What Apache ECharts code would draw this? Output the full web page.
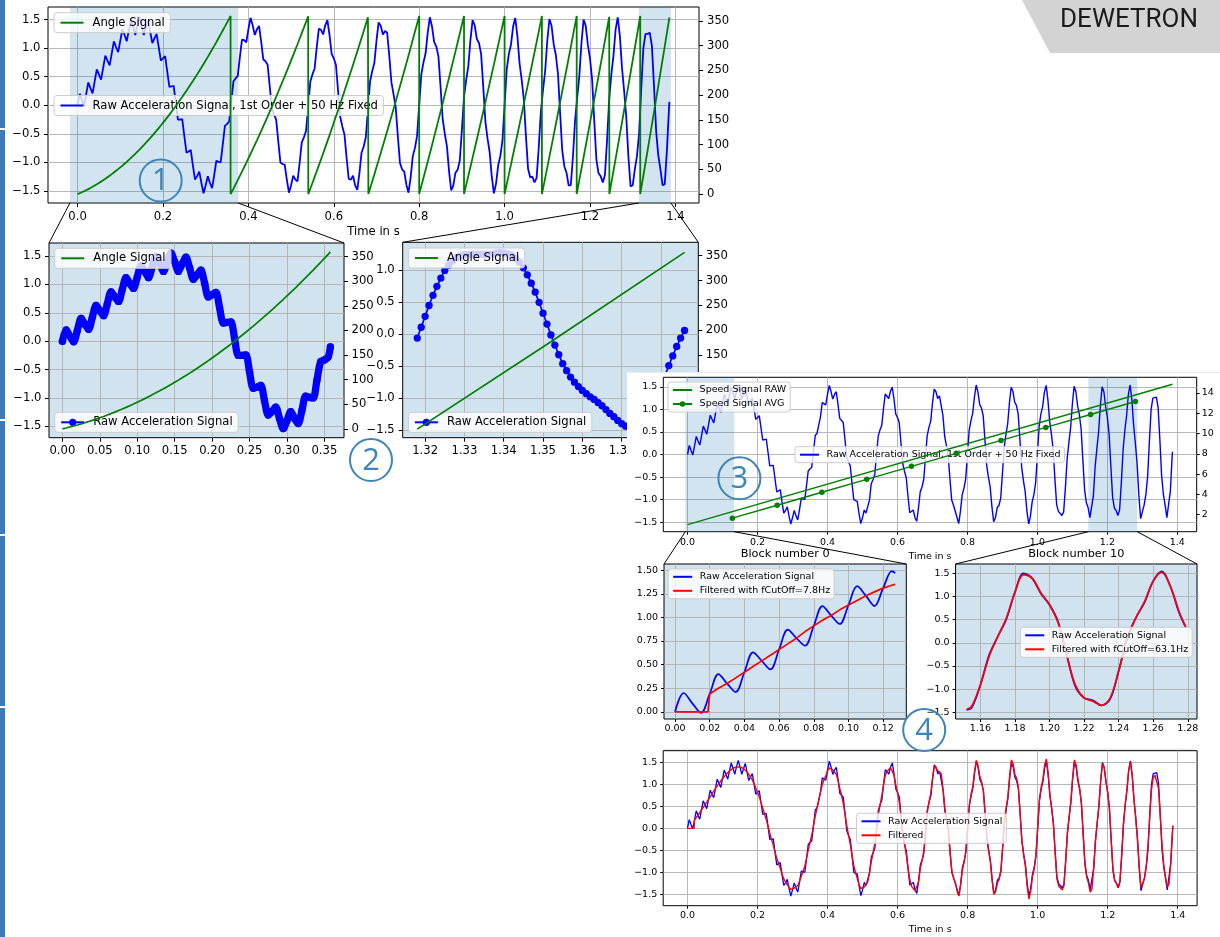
<!DOCTYPE html>
<html>
<head>
<meta charset="utf-8">
<title>Order analysis – raw and filtered acceleration</title>
<script src="https://cdn.jsdelivr.net/npm/echarts@6.0.0/dist/echarts.min.js"></script>
<style>
html, body { margin:0; padding:0; background:#fff; width:1220px; height:937px; overflow:hidden; }
#c1 { position:absolute; left:0; top:0; width:1220px; height:937px; }
#c2 { position:absolute; left:627px; top:372px; width:593px; height:565px; background:#fff; }
</style>
</head>
<body>
<div id="c1"></div>
<div id="c2"></div>
<script>
// ================= DATA =================
const SAMPLE_STEP = 0.005; // seconds between consecutive values below

// Raw acceleration signal (1st order + 50 Hz), one value every 5 ms from t = 0
const rawAccel = [
 0.00, 0.20, 0.09,-0.01, 0.19, 0.40, 0.30, 0.21, 0.42, 0.63,
 0.54, 0.45, 0.66, 0.87, 0.78, 0.70, 0.91, 1.12, 1.02, 0.93,
 1.13, 1.33, 1.23, 1.12, 1.31, 1.49, 1.37, 1.23, 1.40, 1.55,
 1.40, 1.23, 1.36, 1.48, 1.29, 1.09, 1.17, 1.25, 1.02, 0.78,
 0.82, 0.86, 0.59, 0.32, 0.33, 0.34, 0.05,-0.25,-0.25,-0.24,
-0.54,-0.83,-0.81,-0.78,-1.05,-1.30,-1.24,-1.16,-1.36,-1.54,
-1.40,-1.24,-1.36,-1.45,-1.22,-0.97,-0.99,-1.00,-0.69,-0.36,
-0.33,-0.28, 0.07, 0.42, 0.47, 0.51, 0.84, 1.15, 1.14, 1.10,
 1.33, 1.53, 1.40, 1.23, 1.33, 1.39, 1.11, 0.80, 0.77, 0.71,
 0.33,-0.06,-0.16,-0.25,-0.63,-1.00,-1.03,-1.04,-1.30,-1.53,
-1.40,-1.23,-1.30,-1.33,-1.01,-0.65,-0.56,-0.45,-0.02, 0.41,
 0.54, 0.64, 1.01, 1.34, 1.32, 1.24, 1.40, 1.49, 1.23, 0.90,
 0.82, 0.71, 0.26,-0.20,-0.37,-0.51,-0.92,-1.29,-1.30,-1.23,
-1.40,-1.48,-1.19,-0.83,-0.72,-0.56,-0.07, 0.42, 0.60, 0.74,
 1.13, 1.45, 1.39, 1.24, 1.30, 1.27, 0.86, 0.40, 0.19,-0.03,
-0.54,-1.01,-1.12,-1.16,-1.39,-1.53,-1.26,-0.89,-0.75,-0.54,
 0.00, 0.54, 0.75, 0.91, 1.27, 1.54, 1.38, 1.11, 1.03, 0.86,
 0.33,-0.24,-0.50,-0.72,-1.16,-1.49,-1.40,-1.18,-1.13,-0.97,
-0.43, 0.15, 0.44, 0.68, 1.14, 1.49, 1.40, 1.16, 1.09, 0.90,
 0.33,-0.28,-0.58,-0.82,-1.25,-1.54,-1.37,-1.05,-0.89,-0.62,
 0.00, 0.63, 0.90, 1.06, 1.38, 1.53, 1.21, 0.74, 0.45, 0.11,
-0.54,-1.11,-1.26,-1.25,-1.35,-1.27,-0.74,-0.10, 0.27, 0.60,
 1.13, 1.51, 1.39, 1.07, 0.88, 0.56,-0.13,-0.79,-1.07,-1.18,
-1.40,-1.40,-0.91,-0.27, 0.13, 0.51, 1.09, 1.50, 1.39, 1.06,
 0.82, 0.45,-0.27,-0.95,-1.19,-1.24,-1.35,-1.22,-0.61, 0.11,
 0.54, 0.87, 1.33, 1.54, 1.21, 0.65, 0.25,-0.21,-0.90,-1.42,
-1.40,-1.12,-0.89,-0.49, 0.28, 1.00, 1.25, 1.25, 1.27, 1.04,
 0.33,-0.46,-0.88,-1.12,-1.40,-1.38,-0.81,-0.06
];

// Block-wise filtered signal, same 5 ms grid
const filtered = [
 0.00, 0.00, 0.00, 0.00, 0.19, 0.25, 0.30, 0.36, 0.42, 0.48,
 0.54, 0.60, 0.66, 0.72, 0.78, 0.85, 0.91, 0.97, 1.02, 1.08,
 1.13, 1.18, 1.23, 1.27, 1.31, 1.34, 1.37, 1.38, 1.40, 1.41,
 1.40, 1.38, 1.36, 1.34, 1.29, 1.23, 1.17, 1.11, 1.02, 0.92,
 0.82, 0.72, 0.59, 0.46, 0.33, 0.20, 0.05,-0.11,-0.25,-0.38,
-0.54,-0.68,-0.80,-0.91,-1.04,-1.15,-1.22,-1.28,-1.34,-1.39,
-1.39,-1.36,-1.34,-1.30,-1.21,-1.09,-0.98,-0.86,-0.68,-0.49,
-0.32,-0.15, 0.07, 0.28, 0.47, 0.64, 0.83, 1.00, 1.11, 1.20,
 1.31, 1.38, 1.37, 1.33, 1.30, 1.23, 1.09, 0.91, 0.75, 0.57,
 0.32, 0.06,-0.15,-0.37,-0.62,-0.85,-1.01,-1.14,-1.28,-1.37,
-1.37,-1.33,-1.27,-1.21,-1.00,-0.75,-0.55,-0.34,-0.02, 0.31,
 0.53, 0.74, 1.00, 1.22, 1.30, 1.33, 1.38, 1.37, 1.21, 0.99,
 0.81, 0.59, 0.26,-0.10,-0.36,-0.61,-0.91,-1.17,-1.32,-1.31,
-1.42,-1.46,-1.22,-0.90,-0.73,-0.52,-0.07, 0.38, 0.61, 0.81,
 1.16, 1.43, 1.42, 1.31, 1.32, 1.24, 0.88, 0.45, 0.20,-0.08,
-0.55,-0.98,-1.14,-1.23,-1.43,-1.54,-1.30,-0.95,-0.77,-0.52,
 0.00, 0.52, 0.78, 0.97, 1.31, 1.55, 1.42, 1.18, 1.06, 0.85,
 0.34,-0.21,-0.51,-0.77,-1.19,-1.50,-1.44,-1.25,-1.16,-0.97,
-0.45, 0.15, 0.46, 0.72, 1.20, 1.56, 1.47, 1.23, 1.14, 0.94,
 0.34,-0.29,-0.61,-0.86,-1.31,-1.61,-1.44,-1.11,-0.93,-0.65,
 0.00, 0.65, 0.94, 1.12, 1.45, 1.58, 1.26, 0.77, 0.47, 0.10,
-0.56,-1.15,-1.31,-1.30,-1.40,-1.31,-0.76,-0.11, 0.28, 0.63,
 1.18, 1.56, 1.44, 1.12, 0.91, 0.57,-0.13,-0.82,-1.11,-1.24,
-1.45,-1.37,-0.91,-0.30, 0.13, 0.53, 1.09, 1.47, 1.39, 1.08,
 0.82, 0.43,-0.27,-0.92,-1.19,-1.26,-1.35,-1.20,-0.61, 0.08,
 0.54, 0.89, 1.33, 1.52, 1.21, 0.67, 0.24,-0.27,-0.88,-1.34,
-1.38,-1.15,-0.85,-0.41, 0.26, 0.88, 1.16, 1.21, 1.18, 0.92,
 0.30,-0.37,-0.82,-1.12,-1.33,-1.27,-0.77,-0.10
];

// Angle signal in degrees, same 5 ms grid
const angleDeg = [
   0.0,  1.8,  3.8,  5.8,  7.9, 10.1, 12.4, 14.8, 17.3, 19.8,
  22.5, 25.2, 28.1, 31.0, 34.0, 37.1, 40.3, 43.6, 47.0, 50.4,
  54.0, 57.6, 61.4, 65.2, 69.1, 73.1, 77.2, 81.4, 85.7, 90.0,
  94.5, 99.0,103.7,108.4,113.2,118.1,123.1,128.2,133.4,138.6,
 144.0,149.4,155.0,160.6,166.3,172.1,178.0,184.0,190.1,196.2,
 202.5,208.8,215.3,221.8,228.4,235.1,241.9,248.8,255.8,262.8,
 270.0,277.2,284.6,292.0,299.5,307.1,314.8,322.6,330.5,338.4,
 346.5,354.6,  2.9, 11.2, 19.6, 28.1, 36.7, 45.4, 54.2, 63.0,
  72.0, 81.0, 90.2, 99.4,108.7,118.1,127.6,137.2,146.9,156.6,
 166.5,176.4,186.5,196.6,206.8,217.1,227.5,238.0,248.6,259.2,
 270.0,280.8,291.8,302.8,313.9,325.1,336.4,347.8,359.3, 10.8,
  22.5, 34.2, 46.1, 58.0, 70.0, 82.1, 94.3,106.6,119.0,131.4,
 144.0,156.6,169.4,182.2,195.1,208.1,221.2,234.4,247.7,261.0,
 274.5,288.0,301.7,315.4,329.2,343.1,357.1, 11.2, 25.4, 39.6,
  54.0, 68.4, 83.0, 97.6,112.3,127.1,142.0,157.0,172.1,187.2,
 202.5,217.8,233.3,248.8,264.4,280.1,295.9,311.8,327.8,343.8,
   0.0, 16.2, 32.6, 49.0, 65.5, 82.1, 98.8,115.6,132.5,149.4,
 166.5,183.6,200.9,218.2,235.6,253.1,270.7,288.4,306.2,324.0,
 342.0,  0.0, 18.2, 36.4, 54.7, 73.1, 91.6,110.2,128.9,147.6,
 166.5,185.4,204.5,223.6,242.8,262.1,281.5,301.0,320.6,340.2,
   0.0, 19.8, 39.8, 59.8, 79.9,100.1,120.4,140.8,161.3,181.8,
 202.5,223.2,244.1,265.0,286.0,307.1,328.3,349.6, 11.0, 32.4,
  54.0, 75.6, 97.4,119.2,141.1,163.1,185.2,207.4,229.7,252.0,
 274.5,297.0,319.7,342.4,  5.2, 28.1, 51.1, 74.2, 97.4,120.6,
 144.0,167.4,191.0,214.6,238.3,262.1,286.0,310.0,334.1,358.2,
  22.5, 46.8, 71.3, 95.8,120.4,145.1,169.9,194.8,219.8,244.8,
 270.0,295.2,320.6,346.0, 11.5, 37.1, 62.8, 88.6,114.5,140.4,
 166.5,192.6,218.9,245.2,271.6,298.1,324.7,351.4
];

const signalEnd   = { t: 1.386, raw: 0.06, filt: 0.06, angle: 356.8 };   // last sample
const filterStart = [0.019, 0];                                         // last zero of the filter output
const angleResets = [0.3583, 0.5403, 0.6810, 0.8000, 0.9050, 1.0000, 1.0874, 1.1689, 1.2454, 1.3177];
const rev1End     = { t: 0.358, raw: -0.10, angle: 359.6 };

// Zoom on the last revolution: one sample per ms from 1.318 s
const ZOOM_START = 1.318, ZOOM_STEP = 0.001;
const zoomRaw = [
-0.06, 0.11, 0.28, 0.45, 0.61, 0.75, 0.88, 1.00, 1.08, 1.15,
 1.20, 1.23, 1.25, 1.25, 1.25, 1.25, 1.25, 1.25, 1.25, 1.26,
 1.27, 1.28, 1.27, 1.26, 1.24, 1.19, 1.13, 1.04, 0.93, 0.80,
 0.66, 0.50, 0.33, 0.16,-0.01,-0.17,-0.32,-0.46,-0.57,-0.67,
-0.75,-0.82,-0.88,-0.93,-0.98,-1.02,-1.07,-1.12,-1.18,-1.24,
-1.29,-1.35,-1.40,-1.44,-1.46,-1.46,-1.43,-1.38,-1.31,-1.21,
-1.09,-0.96,-0.81,-0.65,-0.49,-0.34,-0.19,-0.06, 0.06
];
const zoomAngle = [[1.318, 1.3], [1.352, 176.9], [1.386, 356.8]];

// Speed signals (Hz)
const speedRawLine = [[0, 1.00], [1.386, 14.86]];
const speedAvgT = [0.128, 0.256, 0.384, 0.512, 0.640, 0.768, 0.896, 1.024, 1.152, 1.280];
const speedAvgV = [1.64, 2.92, 4.20, 5.48, 6.76, 8.04, 9.32, 10.60, 11.88, 13.16];

// Analysis blocks
const block0  = { start: 0.000, end: 0.127, endRaw: 1.47, endFilt: 1.35 };
const block10 = { start: 1.152, end: 1.279, startRaw: -1.45, startFilt: -1.44, endRaw: 0.32, endFilt: 0.33 };

// Shaded spans (zoom windows)
const P1_SHADES = [[-0.0179, 0.3762], [1.3143, 1.3895]];
const P3_SHADES = [[-0.00635, 0.13335], [1.14565, 1.28535]];

// Tick values
const TICKS_T14    = [0, 0.2, 0.4, 0.6, 0.8, 1.0, 1.2, 1.4];
const TICKS_ACC    = [-1.5, -1.0, -0.5, 0, 0.5, 1.0, 1.5];
const TICKS_ACC_2B = [-1.5, -1.0, -0.5, 0, 0.5, 1.0];
const TICKS_ANGLE  = [0, 50, 100, 150, 200, 250, 300, 350];
const TICKS_REV1   = [0, 0.05, 0.10, 0.15, 0.20, 0.25, 0.30, 0.35];
const TICKS_REV10  = [1.32, 1.33, 1.34, 1.35, 1.36, 1.37, 1.38];
const TICKS_SPEED  = [2, 4, 6, 8, 10, 12, 14];
const TICKS_B0_T   = [0, 0.02, 0.04, 0.06, 0.08, 0.10, 0.12];
const TICKS_B0_ACC = [0, 0.25, 0.50, 0.75, 1.00, 1.25, 1.50];
const TICKS_B10_T  = [1.16, 1.18, 1.20, 1.22, 1.24, 1.26, 1.28];

const LABELS = {
  p1Angle: 'Angle Signal', p1Raw: 'Raw Acceleration Signal, 1st Order + 50 Hz Fixed',
  p2aAngle: 'Angle Signal', p2aRaw: 'Raw Acceleration Signal',
  p2bAngle: 'Angle Signal', p2bRaw: 'Raw Acceleration Signal',
  p3SpeedRaw: 'Speed Signal RAW', p3SpeedAvg: 'Speed Signal AVG',
  p3Raw: 'Raw Acceleration Signal, 1st Order + 50 Hz Fixed',
  p4aRaw: 'Raw Acceleration Signal', p4aFilt: 'Filtered with fCutOff=7.8Hz',
  p4bRaw: 'Raw Acceleration Signal', p4bFilt: 'Filtered with fCutOff=63.1Hz',
  p5Raw: 'Raw Acceleration Signal', p5Filt: 'Filtered'
};
const MARKER_ITEMS = { p2aRaw: 1, p2bRaw: 1, p3SpeedAvg: 1 };

// ================= BUILD POINT LISTS =================
const T5 = rawAccel.map((v, i) => Math.round(i * SAMPLE_STEP * 1000) / 1000);
const rawPts = rawAccel.map((v, i) => [T5[i], v]).concat([[signalEnd.t, signalEnd.raw]]);
const filtPts = [];
filtered.forEach((v, i) => {
  if (i > 0 && T5[i - 1] < filterStart[0] && T5[i] > filterStart[0]) filtPts.push(filterStart.slice());
  filtPts.push([T5[i], v]);
});
filtPts.push([signalEnd.t, signalEnd.filt]);
const anglePts = [];
angleDeg.forEach((v, i) => {
  const t = T5[i], tp = i ? T5[i - 1] : -1;
  angleResets.forEach(r => { if (r > tp && r <= t) { anglePts.push([r, 360]); anglePts.push([r, 0]); } });
  anglePts.push([t, v]);
});
anglePts.push([signalEnd.t, signalEnd.angle]);
const within = (pts, a, b) => pts.filter(p => p[0] >= a && p[0] <= b);

const rev1Raw   = within(rawPts, 0, 0.355).concat([[rev1End.t, rev1End.raw]]);
const rev1Angle = within(anglePts, 0, 0.355).concat([[rev1End.t, rev1End.angle]]);
const zoomPts   = zoomRaw.map((v, i) => [Math.round((ZOOM_START + i * ZOOM_STEP) * 1000) / 1000, v]);
const b0Raw  = within(rawPts, 0, 0.125).concat([[block0.end, block0.endRaw]]);
const b0Filt = within(filtPts, 0, 0.125).concat([[block0.end, block0.endFilt]]);
const b10Raw  = [[block10.start, block10.startRaw]].concat(within(rawPts, 1.153, 1.278), [[block10.end, block10.endRaw]]);
const b10Filt = [[block10.start, block10.startFilt]].concat(within(filtPts, 1.153, 1.278), [[block10.end, block10.endFilt]]);
const speedAvgPts = speedAvgT.map((t, i) => [t, speedAvgV[i]]);

// ================= STYLE HELPERS =================
const FONT = "'DejaVu Sans', sans-serif";
const BLUE = '#0000ff', GREEN = '#008000', RED = '#ff0000';
const SHADE_FILL = '#d1e3ef', SHADE_ALPHA = 'rgba(31,119,180,0.2)';
const CIRCLE_COL = '#3d85b8';

function fmt(dec) {
  return function (v) {
    let s = Number(v).toFixed(dec);
    if (s.charAt(0) === '-') s = (Number(s) === 0) ? s.slice(1) : '\u2212' + s.slice(1);
    return s;
  };
}
function axis(o) {
  return {
    type: 'value', gridIndex: o.g, min: o.min, max: o.max, position: o.pos,
    axisLine: { show: false, onZero: false },
    axisTick: { show: true, inside: false, length: o.tl, customValues: o.ticks, lineStyle: { color: '#000', width: 1 } },
    axisLabel: { show: true, customValues: o.ticks, formatter: fmt(o.dec), color: '#000', fontFamily: FONT, fontSize: o.fs, margin: o.m },
    splitLine: { show: !!o.split, lineStyle: { color: '#b0b0b0', width: 0.9 } },
    minorTick: { show: false }, minorSplitLine: { show: false }, splitArea: { show: false },
    name: o.name || '', nameLocation: 'middle', nameGap: o.ng || 0,
    nameTextStyle: { fontFamily: FONT, fontSize: o.fs, color: '#000' }
  };
}
function grid(r, bg) {
  return { left: r.left, top: r.top, width: r.width, height: r.height, show: true,
    borderColor: '#000', borderWidth: 1, backgroundColor: bg || 'transparent',
    containLabel: false, outerBoundsMode: 'none' };
}
function legend(o) {
  const L = {
    data: o.items.map(n => MARKER_ITEMS[n] ? { name: n } : { name: n, itemStyle: { opacity: 0 } }),
    orient: 'vertical', z: o.z, selectedMode: false,
    backgroundColor: 'rgba(255,255,255,0.8)', borderColor: '#cccccc', borderWidth: 1, borderRadius: 3,
    padding: o.pad, itemWidth: o.iw, itemHeight: o.ih, itemGap: o.gap,
    formatter: n => LABELS[n],
    textStyle: { fontFamily: FONT, fontSize: o.fs, color: '#000', lineHeight: o.lh, padding: [0, 0, 0, o.tp] },
    top: o.top
  };
  if (o.left != null) L.left = o.left;
  if (o.right != null) L.right = o.right;
  return L;
}
function line(name, xi, yi, data, color, width, z, extra) {
  return Object.assign({
    type: 'line', name, xAxisIndex: xi, yAxisIndex: yi, data,
    symbol: 'none', showSymbol: false,
    lineStyle: { color, width }, itemStyle: { color, borderWidth: 0 },
    z, silent: true, animation: false, clip: true, emphasis: { disabled: true }
  }, extra || {});
}
function shadeArea(spans) {
  return { silent: true, label: { show: false }, itemStyle: { color: SHADE_ALPHA, borderWidth: 0 },
    data: spans.map(s => [{ xAxis: s[0] }, { xAxis: s[1] }]) };
}
function circled(x, y, digit) {
  return [
    { type: 'circle', shape: { cx: x, cy: y, r: 21 }, style: { fill: 'none', stroke: CIRCLE_COL, lineWidth: 2 }, z: 20, silent: true },
    { type: 'text', x: x, y: y + 1, style: { text: digit, fontFamily: "'Open Sans', sans-serif", fontSize: 31, fill: CIRCLE_COL, align: 'center', verticalAlign: 'middle' }, z: 20, silent: true }
  ];
}
function seg(a, b) {
  return { type: 'line', shape: { x1: a[0], y1: a[1], x2: b[0], y2: b[1] }, style: { stroke: '#000', lineWidth: 1 }, z: 20, silent: true };
}

// ================= CHART 1: full signal + two revolution zooms =================
const G_P1 = { left: 48, top: 7, width: 651, height: 196 };
const G_2A = { left: 49, top: 243, width: 295, height: 194.7 };
const G_2B = { left: 402.7, top: 242.3, width: 295.6, height: 195.4 };
const F1 = 11.6;
const leg1 = { fs: F1, pad: [3.5, 5.5], iw: 23, ih: 9, gap: 5, lh: 13, tp: 4 };

const opt1 = {
  animation: false,
  backgroundColor: '#ffffff',
  grid: [grid(G_P1), grid(G_2A, SHADE_FILL), grid(G_2B, SHADE_FILL)],
  xAxis: [
    axis({ g: 0, min: -0.0693, max: 1.4553, ticks: TICKS_T14, dec: 1, fs: F1, m: 8, tl: 4, split: true, name: 'Time in s', ng: 22.5 }),
    axis({ g: 1, min: -0.0179, max: 0.3762, ticks: TICKS_REV1, dec: 2, fs: F1, m: 7, tl: 4, split: true }),
    axis({ g: 2, min: 1.3143, max: 1.3895, ticks: TICKS_REV10, dec: 2, fs: F1, m: 7, tl: 4, split: true })
  ],
  yAxis: [
    axis({ g: 0, pos: 'left',  min: -1.71, max: 1.72, ticks: TICKS_ACC, dec: 1, fs: F1, m: 7.5, tl: 4, split: true }),
    axis({ g: 0, pos: 'right', min: -18, max: 378, ticks: TICKS_ANGLE, dec: 0, fs: F1, m: 8, tl: 4 }),
    axis({ g: 1, pos: 'left',  min: -1.70, max: 1.73, ticks: TICKS_ACC, dec: 1, fs: F1, m: 7.5, tl: 4, split: true }),
    axis({ g: 1, pos: 'right', min: -18, max: 377.6, ticks: TICKS_ANGLE, dec: 0, fs: F1, m: 7.5, tl: 4 }),
    axis({ g: 2, pos: 'left',  min: -1.62, max: 1.44, ticks: TICKS_ACC_2B, dec: 1, fs: F1, m: 8, tl: 4, split: true }),
    axis({ g: 2, pos: 'right', min: -16, max: 377, ticks: TICKS_ANGLE, dec: 0, fs: F1, m: 7.5, tl: 4 })
  ],
  legend: [
    legend(Object.assign({ items: ['p1Angle'], left: 54, top: 12.7, z: 4 }, leg1)),
    legend(Object.assign({ items: ['p1Raw'], left: 54, top: 95.5, z: 2 }, leg1)),
    legend(Object.assign({ items: ['p2aAngle'], left: 54.7, top: 248.3, z: 4 }, leg1)),
    legend(Object.assign({ items: ['p2aRaw'], left: 54.7, top: 412.3, z: 2 }, leg1)),
    legend(Object.assign({ items: ['p2bAngle'], left: 408.4, top: 248, z: 4 }, leg1)),
    legend(Object.assign({ items: ['p2bRaw'], left: 408.4, top: 412.3, z: 2 }, leg1))
  ],
  series: [
    line('p1Raw', 0, 0, rawPts, BLUE, 1.8, 1, { markArea: shadeArea(P1_SHADES) }),
    line('p1Angle', 0, 1, anglePts, GREEN, 1.8, 3),
    line('p2aBand', 1, 2, rev1Raw, BLUE, 7.3, 1, { smooth: 0.3, lineStyle: { color: BLUE, width: 7.3, cap: 'round', join: 'round' } }),
    line('p2aRaw', 1, 2, rev1Raw, BLUE, 1.7, 1, { symbol: 'circle', symbolSize: 7.3, showSymbol: true, smooth: 0.3 }),
    line('p2aAngle', 1, 3, rev1Angle, GREEN, 1.7, 3),
    line('p2bRaw', 2, 4, zoomPts, BLUE, 1.7, 1, { symbol: 'circle', symbolSize: 7.3, showSymbol: true }),
    line('p2bAngle', 2, 5, zoomAngle, GREEN, 1.7, 3)
  ]
};

const c1 = echarts.init(document.getElementById('c1'), null, { renderer: 'canvas', width: 1220, height: 937 });
c1.setOption(opt1);

(function () {
  const px = t => c1.convertToPixel({ gridIndex: 0 }, [t, 0])[0];
  const yb = G_P1.top + G_P1.height;
  const els = [];
  [[0, 128], [130, 419], [421, 534], [536, 706], [708, 937]].forEach(s =>
    els.push({ type: 'rect', shape: { x: 0, y: s[0], width: 5, height: s[1] - s[0] }, style: { fill: '#3b7cb8' }, z: 20, silent: true }));
  els.push({ type: 'polygon', shape: { points: [[1022, 0], [1220, 0], [1220, 53], [1050, 53]] }, style: { fill: '#d3d3d3' }, z: 20, silent: true });
  els.push({ type: 'text', x: 1129, y: 20.5, style: { text: 'DEWETRON', fontFamily: 'Roboto, sans-serif', fontSize: 26, fill: '#1b1b1b', align: 'center', verticalAlign: 'middle' }, z: 21, silent: true });
  els.push(seg([px(P1_SHADES[0][0]), yb], [G_2A.left, G_2A.top]));
  els.push(seg([px(P1_SHADES[0][1]), yb], [G_2A.left + G_2A.width, G_2A.top]));
  els.push(seg([px(P1_SHADES[1][0]), yb], [G_2B.left, G_2B.top]));
  els.push(seg([px(P1_SHADES[1][1]), yb], [G_2B.left + G_2B.width, G_2B.top]));
  circled(160.7, 180.5, '1').forEach(e => els.push(e));
  circled(371, 460, '2').forEach(e => els.push(e));
  c1.setOption({ graphic: { elements: els } });
})();

// ================= CHART 2: speed, analysis blocks, filtered result =================
const G_P3 = { left: 36.3, top: 5.3, width: 533.4, height: 154.4 };
const G_4A = { left: 37, top: 192, width: 242.3, height: 155 };
const G_4B = { left: 328.6, top: 192, width: 241.4, height: 155 };
const G_P5 = { left: 36.2, top: 378.7, width: 533.9, height: 155 };
const F2 = 9.5;
const leg2 = { fs: F2, pad: [2.5, 4], iw: 19, ih: 7, gap: 3, lh: 11, tp: 2.6 };

const opt2 = {
  animation: false,
  backgroundColor: '#ffffff',
  grid: [grid(G_P3), grid(G_4A, SHADE_FILL), grid(G_4B, SHADE_FILL), grid(G_P5)],
  xAxis: [
    axis({ g: 0, min: -0.0693, max: 1.4553, ticks: TICKS_T14, dec: 1, fs: F2, m: 6, tl: 3, split: true, name: 'Time in s', ng: 19.6 }),
    axis({ g: 1, min: -0.00635, max: 0.13335, ticks: TICKS_B0_T, dec: 2, fs: F2, m: 5, tl: 3, split: true }),
    axis({ g: 2, min: 1.14565, max: 1.28535, ticks: TICKS_B10_T, dec: 2, fs: F2, m: 5, tl: 3, split: true }),
    axis({ g: 3, min: -0.0693, max: 1.4553, ticks: TICKS_T14, dec: 1, fs: F2, m: 5, tl: 3, split: true, name: 'Time in s', ng: 19 })
  ],
  yAxis: [
    axis({ g: 0, pos: 'left',  min: -1.71, max: 1.71, ticks: TICKS_ACC, dec: 1, fs: F2, m: 6, tl: 3, split: true }),
    axis({ g: 0, pos: 'right', min: 0.307, max: 15.55, ticks: TICKS_SPEED, dec: 0, fs: F2, m: 5, tl: 3 }),
    axis({ g: 1, pos: 'left',  min: -0.075, max: 1.565, ticks: TICKS_B0_ACC, dec: 2, fs: F2, m: 6, tl: 3, split: true }),
    axis({ g: 2, pos: 'left',  min: -1.645, max: 1.70, ticks: TICKS_ACC, dec: 1, fs: F2, m: 6, tl: 3, split: true }),
    axis({ g: 3, pos: 'left',  min: -1.76, max: 1.77, ticks: TICKS_ACC, dec: 1, fs: F2, m: 6, tl: 3, split: true })
  ],
  legend: [
    legend(Object.assign({ items: ['p3SpeedRaw', 'p3SpeedAvg'], left: 41, top: 10, z: 4 }, leg2)),
    legend(Object.assign({ items: ['p3Raw'], left: 168, top: 74.7, z: 2 }, leg2)),
    legend(Object.assign({ items: ['p4aRaw', 'p4aFilt'], left: 41.2, top: 196.8, z: 4 }, leg2)),
    legend(Object.assign({ items: ['p4bRaw', 'p4bFilt'], right: 27.8, top: 255.3, z: 4 }, leg2)),
    legend(Object.assign({ items: ['p5Raw', 'p5Filt'], left: 229.5, top: 441.3, z: 4 }, leg2))
  ],
  series: [
    line('p3Raw', 0, 0, rawPts, BLUE, 1.4, 1, { markArea: shadeArea(P3_SHADES) }),
    line('p3SpeedRaw', 0, 1, speedRawLine, GREEN, 1.4, 3),
    line('p3SpeedAvg', 0, 1, speedAvgPts, GREEN, 1.4, 3, { symbol: 'circle', symbolSize: 5.5, showSymbol: true }),
    line('p4aRaw', 1, 2, b0Raw, BLUE, 1.7, 1, { smooth: 0.35 }),
    line('p4aFilt', 1, 2, b0Filt, RED, 1.7, 2),
    line('p4bRaw', 2, 3, b10Raw, BLUE, 1.7, 1, { smooth: 0.35 }),
    line('p4bFilt', 2, 3, b10Filt, RED, 1.7, 2, { smooth: 0.35 }),
    line('p5Raw', 3, 4, rawPts, BLUE, 1.3, 1),
    line('p5Filt', 3, 4, filtPts, RED, 1.4, 2)
  ]
};

const c2 = echarts.init(document.getElementById('c2'), null, { renderer: 'canvas', width: 593, height: 565 });
c2.setOption(opt2);

(function () {
  const px = t => c2.convertToPixel({ gridIndex: 0 }, [t, 0])[0];
  const yb = G_P3.top + G_P3.height;
  const els = [];
  els.push({ type: 'line', shape: { x1: 0, y1: 0.5, x2: 593, y2: 0.5 }, style: { stroke: '#ececec', lineWidth: 1 }, z: 20, silent: true });
  els.push({ type: 'line', shape: { x1: 37, y1: 377.3, x2: 568, y2: 377.3 }, style: { stroke: '#e4e4e4', lineWidth: 1 }, z: 20, silent: true });
  els.push(seg([px(P3_SHADES[0][0]), yb], [G_4A.left, G_4A.top]));
  els.push(seg([px(P3_SHADES[0][1]), yb], [G_4A.left + G_4A.width, G_4A.top]));
  els.push(seg([px(P3_SHADES[1][0]), yb], [G_4B.left, G_4B.top]));
  els.push(seg([px(P3_SHADES[1][1]), yb], [G_4B.left + G_4B.width, G_4B.top]));
  els.push({ type: 'text', x: G_4A.left + G_4A.width / 2, y: 182, style: { text: 'Block number 0', fontFamily: FONT, fontSize: 11.3, fill: '#000', align: 'center', verticalAlign: 'middle' }, z: 20, silent: true });
  els.push({ type: 'text', x: G_4B.left + G_4B.width / 2, y: 182, style: { text: 'Block number 10', fontFamily: FONT, fontSize: 11.3, fill: '#000', align: 'center', verticalAlign: 'middle' }, z: 20, silent: true });
  circled(112.4, 106.3, '3').forEach(e => els.push(e));
  circled(297.2, 358, '4').forEach(e => els.push(e));
  c2.setOption({ graphic: { elements: els } });
})();
</script>
</body>
</html>
